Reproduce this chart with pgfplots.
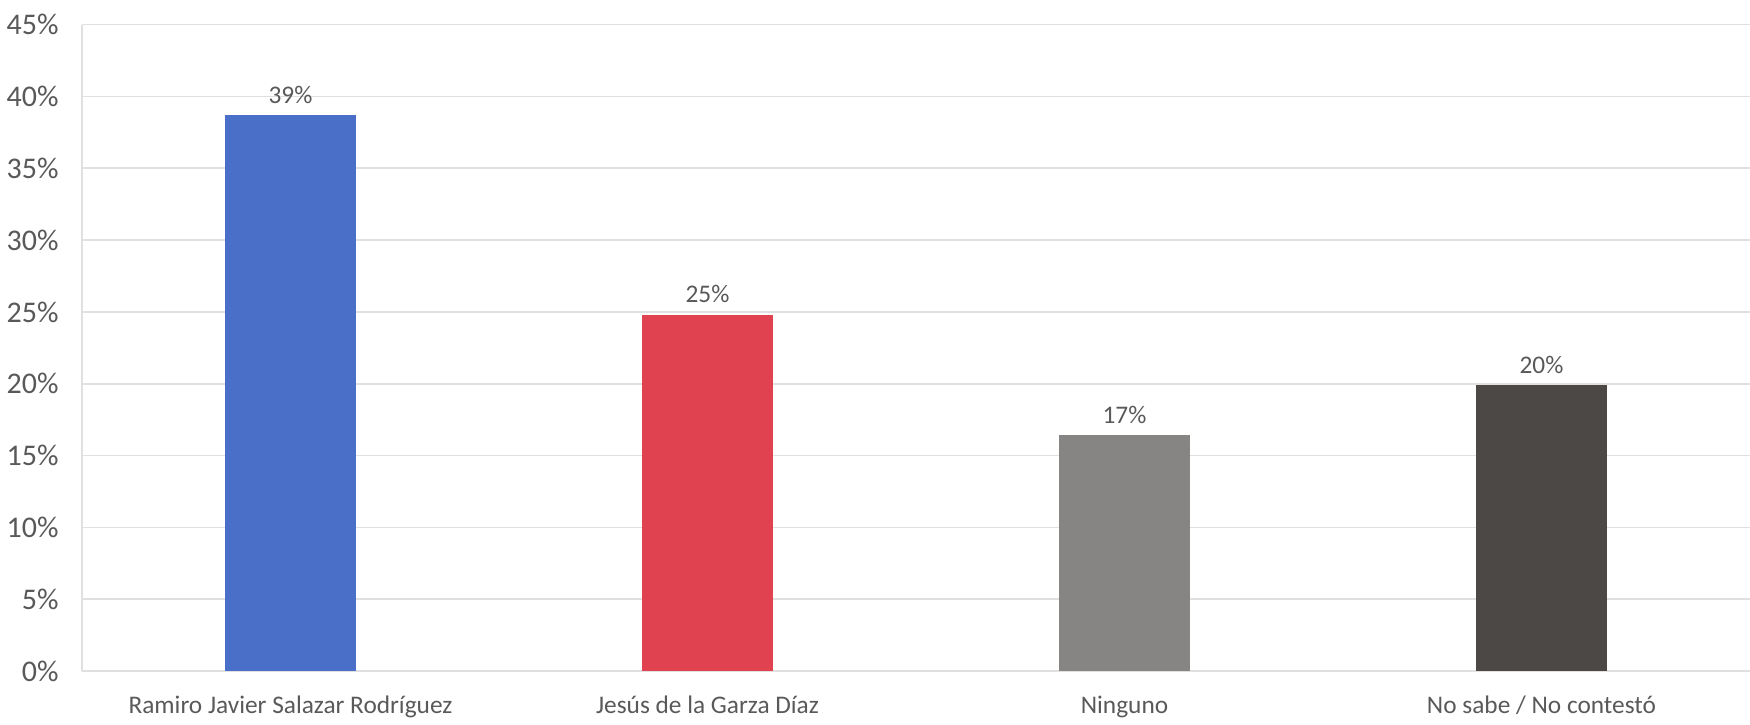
\documentclass[border=0pt]{standalone}
\usepackage{pgfplots}
\pgfplotsset{compat=1.18}
\usepackage{fontspec}
\setmainfont{Carlito}
\definecolor{txt}{HTML}{595959}
\definecolor{grid}{HTML}{E0E0E0}
\definecolor{cblue}{HTML}{4A6FC8}
\definecolor{cred}{HTML}{E0434F}
\definecolor{cgray}{HTML}{878584}
\definecolor{cdark}{HTML}{4B4846}
\begin{document}
\begin{tikzpicture}
\begin{axis}[
  scale only axis,
  width=500.4pt, height=194pt,
  xmin=-0.5, xmax=3.5, ymin=0, ymax=45,
  ytick={0,5,...,45},
  yticklabel={\pgfmathprintnumber{\tick}\%},
  /pgf/number format/assume math mode=true,
  xtick={0,1,2,3},
  xticklabels={Ramiro Javier Salazar Rodríguez, Jesús de la Garza Díaz, Ninguno, No sabe / No contestó},
  major tick length=0,
  axis x line*=bottom, axis y line*=left,
  axis line style={draw=grid, -},
  ymajorgrids, grid style={draw=grid, line width=0.5pt},
  tick label style={font=\fontsize{7.6}{9}\selectfont, text=txt},
  yticklabel style={xshift=-3.5pt, font=\fontsize{9}{10}\selectfont},
  xticklabel style={yshift=-4pt},
  ybar, bar width=39.2pt, bar shift=0pt,
  nodes near coords,
  point meta=explicit symbolic,
  every node near coord/.append style={font=\fontsize{7.6}{9}\selectfont, text=txt},
  clip=false,
]
\addplot[fill=cblue, draw=none] coordinates {(0,38.7) [39\%]};
\addplot[fill=cred, draw=none] coordinates {(1,24.8) [25\%]};
\addplot[fill=cgray, draw=none] coordinates {(2,16.4) [17\%]};
\addplot[fill=cdark, draw=none] coordinates {(3,19.9) [20\%]};
\end{axis}
\pgfresetboundingbox
\useasboundingbox (-24.6pt,-15.9pt) rectangle (500.4pt,201.35pt);
\end{tikzpicture}
\end{document}
